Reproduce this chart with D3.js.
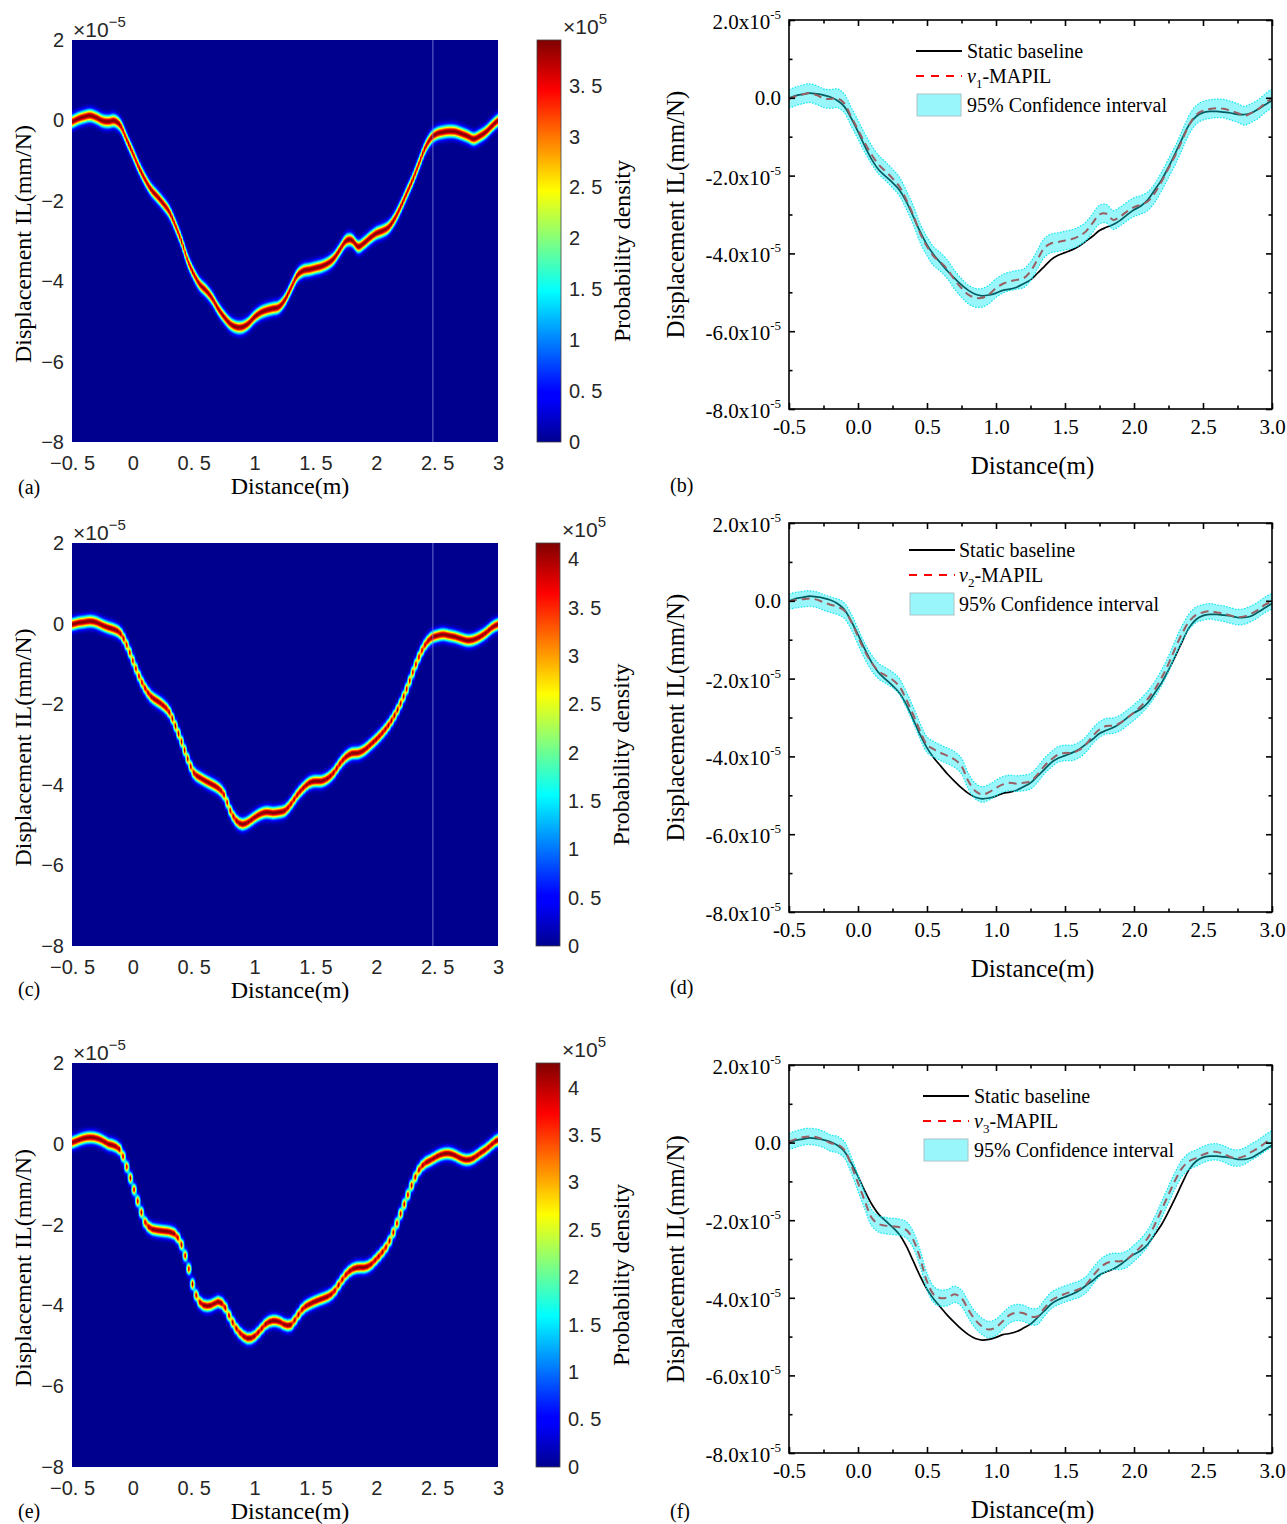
<!DOCTYPE html>
<html><head><meta charset="utf-8">
<script src="https://cdn.jsdelivr.net/npm/d3@7"></script>
<style>body{margin:0;background:#fff}svg{display:block}</style>
</head><body>
<svg id="fig" width="1287" height="1524"></svg>
<script>
// ---------------- DATA ----------------
const distance = [-0.5,-0.45,-0.4,-0.35,-0.3,-0.25,-0.2,-0.15,-0.1,-0.05,0,0.05,0.1,0.15,0.2,0.25,0.3,0.35,0.4,0.45,0.5,0.55,0.6,0.65,0.7,0.75,0.8,0.85,0.9,0.95,1.0,1.05,1.1,1.15,1.2,1.25,1.3,1.35,1.4,1.45,1.5,1.55,1.6,1.65,1.7,1.75,1.8,1.85,1.9,1.95,2.0,2.05,2.1,2.15,2.2,2.25,2.3,2.35,2.4,2.45,2.5,2.55,2.6,2.65,2.7,2.75,2.8,2.85,2.9,2.95,3.0];
// values in units of 1e-5 mm/N
const staticBaseline = [-0.01,0.06,0.09,0.12,0.10,0.07,0.02,-0.07,-0.22,-0.52,-0.87,-1.25,-1.59,-1.85,-2.02,-2.18,-2.37,-2.67,-3.05,-3.44,-3.78,-4.04,-4.25,-4.46,-4.64,-4.81,-4.95,-5.05,-5.09,-5.07,-5.02,-4.95,-4.92,-4.87,-4.78,-4.68,-4.51,-4.34,-4.16,-4.05,-3.98,-3.91,-3.82,-3.69,-3.56,-3.41,-3.33,-3.26,-3.15,-3.01,-2.88,-2.78,-2.62,-2.37,-2.11,-1.78,-1.42,-1.04,-0.69,-0.48,-0.38,-0.35,-0.35,-0.37,-0.39,-0.43,-0.43,-0.39,-0.29,-0.18,-0.07];
const mapilV1 = [-0.03,0.04,0.09,0.12,0.07,-0.01,-0.03,-0.01,-0.14,-0.48,-0.82,-1.17,-1.47,-1.72,-1.89,-2.07,-2.28,-2.62,-3.01,-3.48,-3.82,-4.08,-4.23,-4.42,-4.68,-4.89,-5.06,-5.14,-5.14,-5.05,-4.89,-4.78,-4.72,-4.68,-4.64,-4.46,-4.16,-3.86,-3.74,-3.71,-3.67,-3.63,-3.56,-3.44,-3.22,-3.00,-2.98,-3.14,-3.05,-2.92,-2.81,-2.75,-2.66,-2.45,-2.15,-1.81,-1.47,-1.08,-0.69,-0.44,-0.33,-0.29,-0.27,-0.28,-0.33,-0.39,-0.46,-0.39,-0.29,-0.14,-0.01];
const mapilV2 = [-0.02,0.02,0.04,0.06,0.03,-0.04,-0.10,-0.15,-0.25,-0.53,-0.92,-1.30,-1.60,-1.81,-1.92,-2.03,-2.20,-2.54,-2.93,-3.35,-3.70,-3.82,-3.91,-3.99,-4.08,-4.25,-4.64,-4.89,-4.98,-4.92,-4.81,-4.72,-4.68,-4.70,-4.68,-4.64,-4.47,-4.25,-4.08,-3.95,-3.91,-3.91,-3.84,-3.70,-3.48,-3.31,-3.22,-3.21,-3.14,-3.01,-2.87,-2.71,-2.52,-2.28,-1.98,-1.62,-1.21,-0.83,-0.53,-0.36,-0.30,-0.27,-0.30,-0.33,-0.38,-0.42,-0.40,-0.33,-0.23,-0.10,-0.02];
const mapilV3 = [0.03,0.09,0.14,0.16,0.14,0.08,-0.01,-0.05,-0.18,-0.57,-1.04,-1.51,-1.94,-2.10,-2.14,-2.16,-2.18,-2.25,-2.50,-2.98,-3.58,-3.92,-4.01,-3.99,-3.91,-4.01,-4.31,-4.57,-4.74,-4.82,-4.76,-4.60,-4.44,-4.38,-4.40,-4.48,-4.48,-4.27,-4.07,-3.97,-3.90,-3.84,-3.78,-3.67,-3.45,-3.24,-3.11,-3.06,-3.06,-3.00,-2.85,-2.68,-2.46,-2.12,-1.73,-1.34,-0.96,-0.65,-0.48,-0.40,-0.31,-0.25,-0.24,-0.29,-0.37,-0.40,-0.35,-0.24,-0.14,-0.01,0.10];
const ciHalfWidth = [0.24, 0.20, 0.21];          // 95% CI half width (1e-5)
const colorbarTop = [3.95, 4.17, 4.26];          // colorbar maximum (x1e5)
const colorbarTicks = [[0,0.5,1,1.5,2,2.5,3,3.5],[0,0.5,1,1.5,2,2.5,3,3.5,4],[0,0.5,1,1.5,2,2.5,3,3.5,4]];
const colorbarTickLabels = ["0","0. 5","1","1. 5","2","2. 5","3","3. 5","4"];
const heatXTicks = [-0.5,0,0.5,1,1.5,2,2.5,3];
const heatXTickLabels = ["\u22120. 5","0","0. 5","1","1. 5","2","2. 5","3"];
const heatYTicks = [2,0,-2,-4,-6,-8];
const heatYTickLabels = ["2","0","\u22122","\u22124","\u22126","\u22128"];
const lineXTicks = [-0.5,0,0.5,1,1.5,2,2.5,3];
const lineXTickLabels = ["-0.5","0.0","0.5","1.0","1.5","2.0","2.5","3.0"];
const lineXMinor = [-0.25,0.25,0.75,1.25,1.75,2.25,2.75];
const lineYTicks = [2,0,-2,-4,-6,-8];
const lineYTickLabels = ["2.0","0.0","-2.0","-4.0","-6.0","-8.0"];
const lineYMinor = [1,-1,-3,-5,-7];
const seriesSubscripts = ["1","2","3"];
const heatLetters = ["(a)","(c)","(e)"];
const lineLetters = ["(b)","(d)","(f)"];
const mapils = [mapilV1, mapilV2, mapilV3];

// ---------------- LAYOUT ----------------
const layout = [
  {heat:[72,498,40,442],   cb:[537,561], line:[789,1272,20,409],   leg:[916,51,967],   seam:true,  letH:494,  letL:492},
  {heat:[72,498,543,946],  cb:[536,560], line:[789,1272,523,912],  leg:[909,550,959],  seam:true,  letH:996,  letL:994},
  {heat:[72,498,1063,1467],cb:[536,560], line:[789,1272,1065,1453],leg:[923,1096,974], seam:false, letH:1518, letL:1518}
];
const heatSampleStep = [0.015, 0.025, 0.03];
const seamAt = 2.465;
const SERIF = "'Liberation Serif','Times New Roman',serif";
const SANS = "'Liberation Sans',Arial,Helvetica,sans-serif";

const svg = d3.select("#fig");
const defs = svg.append("defs");

function cl(v){return Math.max(0,Math.min(1,v));}
function jet(t){
  t = cl(t);
  const r = cl(Math.min(4*t-1.5, -4*t+4.5));
  const g = cl(Math.min(4*t-0.5, -4*t+3.5));
  const b = cl(Math.min(4*t+0.5625, -4*t+2.5));
  return `rgb(${Math.round(r*255)},${Math.round(g*255)},${Math.round(b*255)})`;
}
// uniform Catmull-Rom evaluation of the data curve
function curveAt(xv, vals){
  const h = distance[1]-distance[0];
  let u = (xv - distance[0])/h;
  let i = Math.floor(u); if (i<0) i=0; if (i>vals.length-2) i=vals.length-2;
  const t = u - i;
  const p0 = vals[Math.max(0,i-1)], p1 = vals[i], p2 = vals[i+1], p3 = vals[Math.min(vals.length-1,i+2)];
  return 0.5*((2*p1) + (-p0+p2)*t + (2*p0-5*p1+4*p2-p3)*t*t + (-p0+3*p1-3*p2+p3)*t*t*t);
}

// ---------------- HEATMAP PANELS ----------------
function drawHeat(i){
  const L = layout[i];
  const [x0,x1,y0,y1] = L.heat;
  const x = d3.scaleLinear().domain([-0.5,3]).range([x0,x1]);
  const y = d3.scaleLinear().domain([-8,2]).range([y1,y0]);
  const g = svg.append("g");
  g.append("rect").attr("x",x0).attr("y",y0).attr("width",x1-x0).attr("height",y1-y0).attr("fill",jet(0));

  const top = colorbarTop[i];
  const sigma = 1/(top*Math.sqrt(2*Math.PI));
  const color = d3.scaleSequential(t=>jet(t)).domain([0,top]);
  const step = heatSampleStep[i];
  const nG = Math.round(3.5/step);
  const gridC = d3.range(nG+1).map(k => curveAt(-0.5 + k*step, mapils[i]));
  const G = z => top*Math.exp(-z*z/(2*sigma*sigma));
  const cells = [];
  for (let px = x0; px < x1; px++){
    const xd = x.invert(px+0.5);
    const u = (xd+0.5)/step;
    let k = Math.floor(u); if (k<0) k=0; if (k>nG-1) k=nG-1;
    const t = u-k;
    const c0 = gridC[k], c1 = gridC[k+1];
    const pt = Math.floor(y(Math.max(c0,c1)+3.4*sigma)), pb = Math.ceil(y(Math.min(c0,c1)-3.4*sigma));
    for (let py = Math.max(y0,pt); py <= Math.min(y1-1,pb); py++){
      const yd = y.invert(py+0.5);
      const v = (1-t)*G(yd-c0) + t*G(yd-c1);
      if (v/top < 0.006) continue;
      cells.push({px,py,v});
    }
  }
  g.append("g").attr("shape-rendering","crispEdges").selectAll("rect").data(cells).join("rect")
    .attr("x",d=>d.px).attr("y",d=>d.py).attr("width",1).attr("height",1).attr("fill",d=>color(d.v));

  if (L.seam){
    g.append("line").attr("x1",x(seamAt)).attr("x2",x(seamAt)).attr("y1",y0).attr("y2",y1)
      .attr("stroke","#8d93dc").attr("stroke-width",1).attr("opacity",0.75);
  }

  // axes (labels only)
  const ax = g.append("g").attr("transform",`translate(0,${y1})`)
    .call(d3.axisBottom(x).tickValues(heatXTicks).tickSize(0).tickPadding(14).tickFormat((d,j)=>heatXTickLabels[j]));
  ax.select(".domain").remove();
  ax.attr("font-family",SANS).attr("font-size",20);
  ax.selectAll("text").attr("fill","#262626");
  const ay = g.append("g").attr("transform",`translate(${x0},0)`)
    .call(d3.axisLeft(y).tickValues(heatYTicks).tickSize(0).tickPadding(8).tickFormat((d,j)=>heatYTickLabels[j]));
  ay.select(".domain").remove();
  ay.attr("font-family",SANS).attr("font-size",20);
  ay.selectAll("text").attr("fill","#262626");

  // x10^-5 multiplier
  const m = g.append("text").attr("x",x0+1).attr("y",y0-3).attr("font-family",SANS).attr("font-size",21).attr("fill","#262626");
  m.append("tspan").text("\u00d710");
  m.append("tspan").attr("dy",-10).attr("font-size",15).text("\u22125");

  // titles
  g.append("text").attr("x",(x0+x1)/2+5).attr("y",y1+52).attr("text-anchor","middle")
    .attr("font-family",SERIF).attr("font-size",24).text("Distance(m)");
  g.append("text").attr("transform",`translate(${x0-49},${(y0+y1)/2+3}) rotate(-90)`).attr("text-anchor","middle")
    .attr("dy","0.35em").attr("font-family",SERIF).attr("font-size",24).text("Displacement IL(mm/N)");
  g.append("text").attr("x",18).attr("y",L.letH).attr("font-family",SERIF).attr("font-size",20).text(heatLetters[i]);

  // colorbar
  const [c0x,c1x] = L.cb;
  const gid = "jetgrad"+i;
  const grad = defs.append("linearGradient").attr("id",gid).attr("x1",0).attr("y1",1).attr("x2",0).attr("y2",0);
  d3.range(0,65).forEach(s=>{ grad.append("stop").attr("offset",s/64).attr("stop-color",jet(s/64)); });
  const cy = d3.scaleLinear().domain([0,top]).range([y1,y0]);
  g.append("rect").attr("x",c0x).attr("y",y0).attr("width",c1x-c0x).attr("height",y1-y0)
    .attr("fill",`url(#${gid})`).attr("stroke","#444").attr("stroke-width",0.8);
  const ac = g.append("g").attr("transform",`translate(${c1x},0)`)
    .call(d3.axisRight(cy).tickValues(colorbarTicks[i]).tickSize(0).tickPadding(8).tickFormat((d,j)=>colorbarTickLabels[j]));
  ac.select(".domain").remove();
  ac.attr("font-family",SANS).attr("font-size",20);
  ac.selectAll("text").attr("fill","#262626");
  const cm = g.append("text").attr("x",c1x+2).attr("y",y0-6).attr("font-family",SANS).attr("font-size",21).attr("fill","#262626");
  cm.append("tspan").text("\u00d710");
  cm.append("tspan").attr("dy",-10).attr("font-size",15).text("5");
  g.append("text").attr("transform",`translate(${c1x+61},${(y0+y1)/2+10}) rotate(-90)`).attr("text-anchor","middle")
    .attr("dy","0.35em").attr("font-family",SERIF).attr("font-size",24).text("Probability density");
}

// ---------------- LINE PANELS ----------------
function drawLine(i){
  const L = layout[i];
  const [x0,x1,y0,y1] = L.line;
  const x = d3.scaleLinear().domain([-0.5,3]).range([x0,x1]);
  const y = d3.scaleLinear().domain([-8,2]).range([y1,y0]);
  const g = svg.append("g");
  const cid = "clipL"+i;
  defs.append("clipPath").attr("id",cid).append("rect").attr("x",x0).attr("y",y0).attr("width",x1-x0).attr("height",y1-y0);
  const pts = distance.map((d,k)=>({x:d, b:staticBaseline[k], m:mapils[i][k]}));
  const hw = ciHalfWidth[i];
  const plot = g.append("g").attr("clip-path",`url(#${cid})`);
  const cr = d3.curveCatmullRom.alpha(0.5);
  plot.append("path").datum(pts).attr("fill","none").attr("stroke","#000").attr("stroke-width",1.7)
    .attr("d",d3.line().x(d=>x(d.x)).y(d=>y(d.b)).curve(cr));
  plot.append("path").datum(pts).attr("fill","none").attr("stroke","#ff0000").attr("stroke-width",2)
    .attr("stroke-dasharray","8,5").attr("d",d3.line().x(d=>x(d.x)).y(d=>y(d.m)).curve(cr));
  plot.append("path").datum(pts).attr("fill","#00ecf5").attr("fill-opacity",0.4)
    .attr("d",d3.area().x(d=>x(d.x)).y0(d=>y(d.m-hw)).y1(d=>y(d.m+hw)).curve(cr));
  [1,-1].forEach(sg=>{
    plot.append("path").datum(pts).attr("fill","none").attr("stroke","#14e4f0").attr("stroke-width",1.2)
      .attr("stroke-dasharray","1.5,1.5").attr("d",d3.line().x(d=>x(d.x)).y(d=>y(d.m+sg*hw)).curve(cr));
  });

  // ticks (inward on all four sides)
  function styleAx(sel){ sel.select(".domain").remove(); sel.selectAll("line").attr("stroke","#000").attr("stroke-width",1.6); }
  const bx = g.append("g").attr("transform",`translate(0,${y1})`)
    .call(d3.axisBottom(x).tickValues(lineXTicks).tickSize(-6).tickPadding(10).tickFormat((d,j)=>lineXTickLabels[j]));
  styleAx(bx);
  bx.attr("font-family",SERIF).attr("font-size",21);
  bx.selectAll("text").attr("fill","#000");
  styleAx(g.append("g").attr("transform",`translate(0,${y1})`).call(d3.axisBottom(x).tickValues(lineXMinor).tickSize(-3.5).tickFormat("")));
  styleAx(g.append("g").attr("transform",`translate(0,${y0})`).call(d3.axisTop(x).tickValues(lineXTicks).tickSize(-6).tickFormat("")));
  styleAx(g.append("g").attr("transform",`translate(0,${y0})`).call(d3.axisTop(x).tickValues(lineXMinor).tickSize(-3.5).tickFormat("")));
  styleAx(g.append("g").attr("transform",`translate(${x0},0)`).call(d3.axisLeft(y).tickValues(lineYTicks).tickSize(-6).tickFormat("")));
  styleAx(g.append("g").attr("transform",`translate(${x0},0)`).call(d3.axisLeft(y).tickValues(lineYMinor).tickSize(-3.5).tickFormat("")));
  styleAx(g.append("g").attr("transform",`translate(${x1},0)`).call(d3.axisRight(y).tickValues(lineYTicks).tickSize(-6).tickFormat("")));
  styleAx(g.append("g").attr("transform",`translate(${x1},0)`).call(d3.axisRight(y).tickValues(lineYMinor).tickSize(-3.5).tickFormat("")));
  g.append("rect").attr("x",x0).attr("y",y0).attr("width",x1-x0).attr("height",y1-y0)
    .attr("fill","none").attr("stroke","#000").attr("stroke-width",1.6);

  // y tick labels with exponent
  const yl = g.append("g").attr("font-family",SERIF).attr("font-size",21).selectAll("text").data(lineYTicks).join("text")
    .attr("x",x0-8).attr("y",d=>y(d)+(d===0?7:9)).attr("text-anchor","end").attr("fill","#000");
  yl.each(function(d,j){
    const t = d3.select(this);
    if (d===0){ t.text(lineYTickLabels[j]); return; }
    t.append("tspan").text(lineYTickLabels[j]+"x10");
    t.append("tspan").attr("dy",-10).attr("font-size",13).text("-5");
  });

  // titles
  g.append("text").attr("x",(x0+x1)/2+2).attr("y",y1+65).attr("text-anchor","middle")
    .attr("font-family",SERIF).attr("font-size",25).text("Distance(m)");
  g.append("text").attr("transform",`translate(${x0-114},${(y0+y1)/2}) rotate(-90)`).attr("text-anchor","middle")
    .attr("dy","0.35em").attr("font-family",SERIF).attr("font-size",25).text("Displacement IL(mm/N)");
  g.append("text").attr("x",670).attr("y",L.letL).attr("font-family",SERIF).attr("font-size",20).text(lineLetters[i]);

  // legend
  const [lx,ly,tx] = L.leg;
  const lg = g.append("g").attr("font-family",SERIF).attr("font-size",20);
  lg.append("line").attr("x1",lx).attr("x2",lx+46).attr("y1",ly).attr("y2",ly).attr("stroke","#000").attr("stroke-width",2);
  lg.append("text").attr("x",tx).attr("y",ly+7).text("Static baseline");
  lg.append("line").attr("x1",lx).attr("x2",lx+46).attr("y1",ly+25).attr("y2",ly+25).attr("stroke","#ff0000").attr("stroke-width",2).attr("stroke-dasharray","8,7");
  const t2 = lg.append("text").attr("x",tx).attr("y",ly+32);
  t2.append("tspan").attr("font-style","italic").text("v");
  t2.append("tspan").attr("font-size",13).attr("dy",5).text(seriesSubscripts[i]);
  t2.append("tspan").attr("dy",-5).text("-MAPIL");
  lg.append("rect").attr("x",lx+1).attr("y",ly+43).attr("width",44).attr("height",22)
    .attr("fill","#00ecf5").attr("fill-opacity",0.4).attr("stroke","#a9c4c6").attr("stroke-width",1);
  lg.append("text").attr("x",tx).attr("y",ly+61).text("95% Confidence interval");
}

for (let i=0;i<3;i++){ drawHeat(i); drawLine(i); }
</script>
</body></html>
